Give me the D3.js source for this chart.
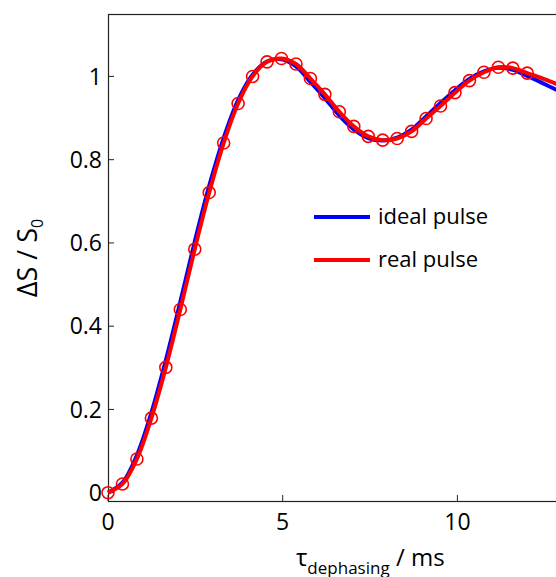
<!DOCTYPE html>
<html>
<head>
<meta charset="utf-8">
<script src="https://cdn.jsdelivr.net/npm/d3@7"></script>
<style>
  body { margin: 0; background: #fff; }
  text { font-family: "Open Sans", sans-serif; fill: #000; }
</style>
</head>
<body>
<div id="chart"></div>
<script>
// sample times (ms): 30 points from 0 to 12
var tMarkers = d3.range(30).map(function(i) { return i * 12 / 29; });
// extra times where the lines keep going past the last marker
var tTail = [12.41, 12.83, 13.24];

var realPulse = [0, 0.021, 0.081, 0.179, 0.301, 0.44, 0.585, 0.721, 0.84, 0.935,
  1.0, 1.035, 1.043, 1.03, 0.995, 0.957, 0.915, 0.88, 0.856, 0.847,
  0.851, 0.868, 0.899, 0.929, 0.961, 0.99, 1.01, 1.022, 1.02, 1.008];
var realTail = [0.996, 0.982, 0.965];

var idealPulse = [0, 0.024, 0.09, 0.192, 0.318, 0.458, 0.603, 0.737, 0.852, 0.943,
  1.004, 1.036, 1.041, 1.024, 0.987, 0.948, 0.906, 0.873, 0.852, 0.846,
  0.853, 0.872, 0.904, 0.936, 0.967, 0.994, 1.012, 1.021, 1.016, 1.001];
var idealTail = [0.985, 0.968, 0.95];

var xTicks = [0, 5, 10];
var yTicks = [0, 0.2, 0.4, 0.6, 0.8, 1];
var legendItems = [{name: 'ideal pulse', color: '#0000ff'}, {name: 'real pulse', color: '#ff0000'}];

function drawChart() {
  var width = 556, height = 577;
  var mLeft = 108, mTop = 14, mBottom = 501;

  var svg = d3.select('#chart').append('svg')
    .attr('width', width)
    .attr('height', height);

  var x = d3.scaleLinear().domain([0, 13.5]).range([mLeft, mLeft + 13.5 * 34.94]);
  var y = d3.scaleLinear().domain([-0.02, 1.15]).range([mBottom, mTop]);

  function pts(ts, vs) {
    return ts.map(function(t, i) { return [t, vs[i]]; });
  }
  var idealData = pts(tMarkers.concat(tTail), idealPulse.concat(idealTail));
  var realData = pts(tMarkers.concat(tTail), realPulse.concat(realTail));
  var markerData = pts(tMarkers, realPulse);

  var line = d3.line()
    .x(function(d) { return x(d[0]); })
    .y(function(d) { return y(d[1]); })
    .curve(d3.curveCatmullRom);

  // frame
  svg.append('rect')
    .attr('x', mLeft + 0.5)
    .attr('y', mTop + 0.5)
    .attr('width', x.range()[1] - mLeft)
    .attr('height', mBottom - mTop)
    .attr('fill', 'none')
    .attr('stroke', '#222')
    .attr('stroke-width', 1.2);

  // inward ticks
  svg.selectAll('.ytick').data(yTicks).enter().append('line')
    .attr('x1', mLeft).attr('x2', mLeft + 6)
    .attr('y1', function(d) { return y(d); })
    .attr('y2', function(d) { return y(d); })
    .attr('stroke', '#222');
  svg.selectAll('.xtick').data(xTicks).enter().append('line')
    .attr('x1', function(d) { return x(d); })
    .attr('x2', function(d) { return x(d); })
    .attr('y1', mBottom).attr('y2', mBottom - 6)
    .attr('stroke', '#222');

  svg.selectAll('.ylab').data(yTicks).enter().append('text')
    .attr('x', mLeft - 6)
    .attr('y', function(d) { return y(d); })
    .attr('dy', '0.36em')
    .attr('text-anchor', 'end')
    .style('font-size', '23px')
    .text(function(d) { return d3.format('~g')(d); });

  svg.selectAll('.xlab').data(xTicks).enter().append('text')
    .attr('x', function(d) { return x(d); })
    .attr('y', mBottom + 29)
    .attr('text-anchor', 'middle')
    .style('font-size', '23px')
    .text(function(d) { return d; });

  // curves
  svg.append('path')
    .attr('d', line(idealData))
    .attr('fill', 'none')
    .attr('stroke', '#0000ff')
    .attr('stroke-width', 4);
  svg.append('path')
    .attr('d', line(realData))
    .attr('fill', 'none')
    .attr('stroke', '#ff0000')
    .attr('stroke-width', 4);

  svg.selectAll('.marker').data(markerData).enter().append('circle')
    .attr('cx', function(d) { return x(d[0]); })
    .attr('cy', function(d) { return y(d[1]); })
    .attr('r', 6)
    .attr('fill', 'none')
    .attr('stroke', '#ff0000')
    .attr('stroke-width', 1.6);

  // legend
  var lg = svg.selectAll('.legend').data(legendItems).enter().append('g')
    .attr('transform', function(d, i) { return 'translate(314,' + (217 + i * 43) + ')'; });
  lg.append('line')
    .attr('x1', 0).attr('x2', 56)
    .attr('stroke', function(d) { return d.color; })
    .attr('stroke-width', 4);
  lg.append('text')
    .attr('x', 64)
    .attr('dy', '0.32em')
    .style('font-size', '22px')
    .text(function(d) { return d.name; });

  // axis titles
  var yt = svg.append('text')
    .attr('transform', 'translate(37,258) rotate(-90)')
    .attr('text-anchor', 'middle')
    .style('font-size', '27px');
  yt.append('tspan').text('ΔS / S');
  yt.append('tspan').attr('dy', 6).style('font-size', '16px').text('0');

  var xt = svg.append('text')
    .attr('x', 296)
    .attr('y', 566)
    .style('font-size', '24px');
  xt.append('tspan').text('τ');
  xt.append('tspan').attr('dy', 8).style('font-size', '17px').text('dephasing');
  xt.append('tspan').attr('dy', -8).text(' / ms');
}

drawChart();
</script>
</body>
</html>
